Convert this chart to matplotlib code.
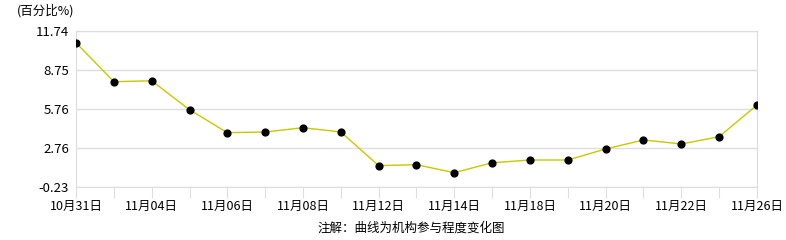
import matplotlib
matplotlib.use('Agg')
import matplotlib.pyplot as plt
import numpy as np

plt.rcParams['font.family'] = ['Noto Sans CJK SC', 'DejaVu Sans']

# 交易日与机构参与程度
dates = ['10月31日', '11月01日', '11月04日', '11月05日', '11月06日', '11月07日',
         '11月08日', '11月11日', '11月12日', '11月13日', '11月14日', '11月15日',
         '11月18日', '11月19日', '11月20日', '11月21日', '11月22日', '11月25日',
         '11月26日']
values = [10.84, 7.85, 7.92, 5.70, 3.94, 3.99, 4.32, 3.99, 1.41, 1.48,
          0.87, 1.63, 1.84, 1.84, 2.69, 3.38, 3.07, 3.63, 6.06]
yticks = [-0.23, 2.76, 5.76, 8.75, 11.74]

fig = plt.figure(figsize=(7.86, 2.40), dpi=100)
ax = fig.add_axes([76 / 786, 53 / 240, 681 / 786, 156 / 240])

x = np.arange(len(dates))
ax.plot(x, values, color='#c8c800', linewidth=1, zorder=3)
ax.scatter(x, values, s=24, color='black', zorder=4)

ax.set_xlim(0, len(dates) - 1)
ax.set_ylim(yticks[0], yticks[-1])
ax.set_yticks(yticks)
ax.set_yticklabels(['%.2f' % v for v in yticks], fontsize=9.5)
ax.set_xticks(x)
ax.set_xticklabels([d if i % 2 == 0 else '' for i, d in enumerate(dates)], fontsize=9)

ax.grid(axis='y', color='#dddddd', linewidth=1)
for s in ['top', 'bottom', 'left', 'right']:
    ax.spines[s].set_color('#dddddd')
ax.tick_params(axis='x', length=8, color='#dddddd', pad=1)
ax.tick_params(axis='y', length=0, pad=5)

fig.text(17 / 786, 1 - 11 / 240, '(百分比%)', fontsize=9, va='center', ha='left')
fig.text(411 / 786, 1 - 228 / 240, '注解：曲线为机构参与程度变化图', fontsize=9,
         va='center', ha='center')

fig.savefig('out.png', dpi=100)
